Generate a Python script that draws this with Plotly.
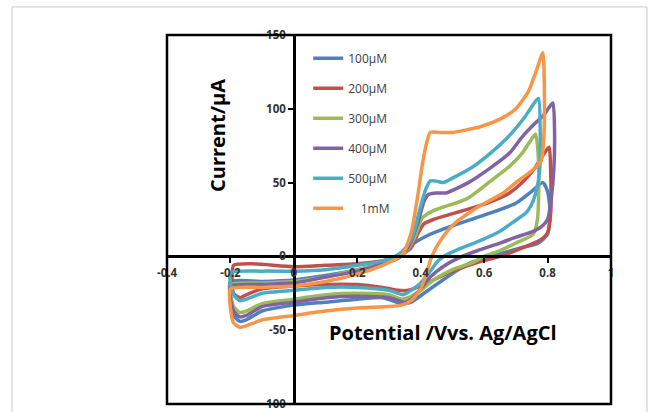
import plotly.graph_objects as go

# Cyclic voltammograms at increasing concentration (potential in V, current in µA)
series_labels = ["100µM", "200µM", "300µM", "400µM", "500µM", "\u00a0\u00a0\u00a0\u00a01mM"]
series_colors = ["#4F81BD", "#C0504D", "#9BBB59", "#8064A2", "#4BACC6", "#F79646"]

potential_100uM = [-0.2, -0.1, 0, 0.1, 0.2, 0.28, 0.33, 0.366, 0.42, 0.49, 0.6, 0.7, 0.75, 0.785, 0.80, 0.808, 0.80,
                   0.77, 0.72, 0.67, 0.62, 0.55, 0.47, 0.41, 0.37, 0.34, 0.28, 0.2, 0.1, 0, -0.1, -0.15, -0.17, -0.19,
                   -0.2, -0.2]
current_100uM = [-17, -17, -16, -13, -9, -5, -1, 7, 14, 20, 28, 36, 44, 50, 44, 30, 15,
                 9, 6, 3, 0, -5, -16, -25, -31, -32, -28, -29, -31, -33, -37, -43, -44, -40,
                 -30, -17]

potential_200uM = [-0.19, -0.13, 0, 0.1, 0.2, 0.28, 0.33, 0.37, 0.39, 0.41, 0.44, 0.55, 0.62, 0.68, 0.72, 0.76, 0.79,
                   0.805, 0.81, 0.81, 0.80, 0.776, 0.734, 0.65, 0.58, 0.5, 0.44, 0.4, 0.36, 0.33, 0.28, 0.2, 0.1, 0,
                   -0.1, -0.15, -0.17, -0.19, -0.195, -0.19]
current_200uM = [-6, -5, -7, -6, -5, -3, 0, 6, 15, 22, 25, 32, 37, 43, 50, 60, 70,
                 74, 55, 30, 16, 11, 7, 0, -4, -10, -16, -20, -23, -23, -21, -19, -19, -20,
                 -22, -26, -28, -25, -15, -6]

potential_300uM = [-0.2, -0.1, 0, 0.1, 0.2, 0.28, 0.33, 0.36, 0.385, 0.405, 0.44, 0.545, 0.62, 0.68, 0.72, 0.745,
                   0.762, 0.77, 0.772, 0.768, 0.755, 0.70, 0.65, 0.60, 0.565, 0.5, 0.44, 0.4, 0.36, 0.34, 0.3, 0.2,
                   0.1, 0, -0.1, -0.15, -0.17, -0.19, -0.2, -0.2]
current_300uM = [-19, -18, -17, -14, -9, -5, -1, 5, 15, 26, 31, 39, 51, 61, 70, 78,
                 83, 70, 45, 25, 15, 9, 4, 0, -4, -9, -16, -23, -28, -29, -26, -25,
                 -26, -29, -32, -37, -38, -34, -25, -19]

potential_400uM = [-0.2, -0.1, 0, 0.1, 0.2, 0.28, 0.33, 0.36, 0.39, 0.41, 0.425, 0.45, 0.48, 0.55, 0.62, 0.68, 0.72,
                   0.76, 0.785, 0.805, 0.817, 0.822, 0.82, 0.812, 0.80, 0.78, 0.755, 0.70, 0.65, 0.58, 0.52, 0.47,
                   0.43, 0.40, 0.37, 0.35, 0.3, 0.2, 0.1, 0, -0.1, -0.15, -0.17, -0.19, -0.2, -0.2]
current_400uM = [-20, -19, -18, -14, -10, -5, -1, 6, 22, 37, 42, 43, 43, 50, 60, 70, 81,
                 90, 95, 101, 104, 85, 60, 40, 25, 20, 17, 13, 9, 4, -1, -7,
                 -14, -22, -29, -31, -28, -27, -28, -31, -34, -40, -41, -37, -28, -20]

potential_500uM = [-0.2, -0.1, 0, 0.1, 0.2, 0.28, 0.32, 0.35, 0.375, 0.395, 0.415, 0.43, 0.45, 0.47, 0.5, 0.56, 0.62,
                   0.68, 0.73, 0.765, 0.772, 0.777, 0.776, 0.77, 0.755, 0.734, 0.69, 0.65, 0.58, 0.52, 0.48, 0.455,
                   0.43, 0.40, 0.37, 0.345, 0.3, 0.2, 0.1, 0, -0.1, -0.15, -0.17, -0.19, -0.2, -0.2]
current_500uM = [-11, -10, -10, -9, -6, -3, 0, 5, 14, 30, 45, 51, 51, 50, 53, 60, 70,
                 82, 95, 106, 107, 80, 62, 50, 38, 30, 23, 17, 10, 5, 1, -3,
                 -10, -18, -23, -26, -23, -21, -21, -23, -25, -29, -30, -26, -18, -11]

potential_1mM = [-0.2, -0.1, 0, 0.1, 0.2, 0.28, 0.32, 0.345, 0.37, 0.39, 0.405, 0.42, 0.43, 0.46, 0.5, 0.59, 0.65,
                 0.70, 0.74, 0.765, 0.785, 0.79, 0.788, 0.78, 0.75, 0.70, 0.66, 0.577, 0.50, 0.46, 0.435, 0.42,
                 0.40, 0.37, 0.34, 0.3, 0.2, 0.1, 0, -0.1, -0.15, -0.17, -0.19, -0.2, -0.2]
current_1mM = [-22, -21, -20, -17, -12, -6, -2, 2, 16, 40, 62, 78, 84, 84, 84, 88, 93,
               100, 112, 126, 138, 110, 80, 65, 58, 50, 43, 33, 21, 10, 0, -10,
               -22, -30, -33, -34, -35, -37, -40, -43, -47, -48, -45, -35, -22]

x_tick_vals = [-0.4, -0.2, 0, 0.2, 0.4, 0.6, 0.8, 1]
x_tick_text = ["-0.4", "-0.2", "0", "0.2", "0.4", "0.6", "0.8", "1"]
y_tick_vals = [-100, -50, 0, 50, 100, 150]
y_tick_text = ["-100", "-50", "0", "50", "100", "150"]

potentials = [potential_100uM, potential_200uM, potential_300uM, potential_400uM, potential_500uM, potential_1mM]
currents = [current_100uM, current_200uM, current_300uM, current_400uM, current_500uM, current_1mM]

fig = go.Figure()
for name, color, xs, ys in zip(series_labels, series_colors, potentials, currents):
    fig.add_trace(go.Scatter(
        x=xs, y=ys, name=name, mode="lines", legendgroup=name,
        line=dict(color=color, width=3.5, shape="spline", smoothing=0.6),
    ))

tick_font = dict(family="Open Sans", size=11.5, color="#333333", weight="bold")
axis_line = dict(showline=True, linecolor="black", linewidth=2.5, showgrid=False, zeroline=False,
                 automargin=False, ticks="outside", ticklen=5, tickwidth=2, tickcolor="black",
                 tickfont=tick_font)

fig.update_layout(
    width=656, height=412,
    margin=dict(l=167, r=45, t=35, b=8),
    paper_bgcolor="white", plot_bgcolor="white",
    showlegend=True,
    legend=dict(x=0.318, y=0.976, xanchor="left", yanchor="top", bgcolor="rgba(0,0,0,0)",
                font=dict(family="Open Sans", size=12, color="#404040"), tracegroupgap=11,
                itemwidth=30),
    xaxis=dict(range=[-0.4, 1], tickvals=x_tick_vals, ticktext=x_tick_text,
               anchor="free", position=0.4, **axis_line),
    yaxis=dict(range=[-100, 150], tickvals=y_tick_vals, ticktext=y_tick_text,
               anchor="free", position=0.4 / 1.4, **axis_line),
    shapes=[
        # plot frame
        dict(type="rect", xref="paper", yref="paper", x0=0, x1=1, y0=0, y1=1,
             line=dict(color="black", width=2.5)),
        # outer light frame
        dict(type="rect", xref="paper", yref="paper", x0=-0.349, x1=1.081, y0=-0.1, y1=1.076,
             line=dict(color="#c8c8c8", width=1)),
    ],
    annotations=[
        dict(text="Current/µA", xref="paper", yref="paper", x=(217 - 167) / 444, y=1 - (136 - 35) / 369,
             textangle=-90, showarrow=False, xanchor="center", yanchor="middle",
             font=dict(family="Open Sans", size=20, color="black", weight="bold")),
        dict(text="Potential /Vvs. Ag/AgCl", xref="paper", yref="paper", x=(443 - 167) / 444,
             y=1 - (332 - 35) / 369, showarrow=False, xanchor="center", yanchor="middle",
             font=dict(family="Open Sans", size=20, color="black", weight="bold")),
    ],
)

fig.write_html("out.html")
